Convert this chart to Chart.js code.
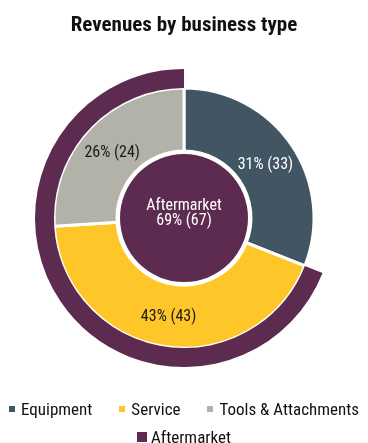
<!DOCTYPE html>
<html>
<head>
<meta charset="utf-8">
<title>Revenues by business type</title>
<script src="https://cdn.jsdelivr.net/npm/chart.js@4.4.1/dist/chart.umd.min.js"></script>
<style>
  html, body { margin: 0; padding: 0; background: #fff; }
  #wrap { position: relative; width: 368px; height: 443px; overflow: hidden; }
  #legend {
    position: absolute; left: 0; top: 395px; width: 368px;
    display: flex; flex-wrap: wrap; justify-content: center; column-gap: 27px;
    font: 17px 'Roboto Condensed', 'Liberation Sans Narrow', sans-serif; color: #111;
  }
  #legend .item { display: flex; align-items: center; height: 28px; white-space: nowrap; }
  #legend .swatch { width: 6px; height: 6px; margin-right: 6px; }
  #legend .item.outer .swatch { width: 10px; height: 10px; margin-right: 4px; }
</style>
</head>
<body>
<div id="wrap">
  <canvas id="chart-revenue"></canvas>
  <div id="legend"></div>
</div>
<script>
(function () {
  'use strict';

  var FONT = "'Roboto Condensed', 'Liberation Sans Narrow', sans-serif";

  // revenue split by business type: share of total (%) and amount
  var categories = ['Equipment', 'Service', 'Tools & Attachments'];
  var shares = [31, 43, 26];
  var amounts = [33, 43, 24];
  var sliceColors = ['#415563', '#FFC629', '#B2B2A8'];
  var labelColors = ['#ffffff', '#1a1a1a', '#1a1a1a'];

  // aftermarket overlays part of the above
  var aftermarketLabel = 'Aftermarket';
  var aftermarketShare = 69;
  var aftermarketAmount = 67;
  var aftermarketColor = '#5E2B50';

  // ring radii in px
  var R_OUTER = 149;
  var R_SPLIT = 130;
  var R_INNER = 67;

  function valueText(share, amount) {
    return share + '% (' + amount + ')';
  }

  var ringLabels = {
    id: 'ringLabels',
    afterDatasetsDraw: function (chart) {
      var ctx = chart.ctx;
      var meta = chart.getDatasetMeta(1);
      ctx.save();
      ctx.font = '16px ' + FONT;
      ctx.textAlign = 'center';
      ctx.textBaseline = 'middle';
      meta.data.forEach(function (arc, i) {
        var p = arc.tooltipPosition();
        ctx.fillStyle = labelColors[i];
        ctx.fillText(valueText(shares[i], amounts[i]), p.x, p.y + 2);
      });

      // aftermarket disc in the hole
      var a = meta.data[0];
      ctx.beginPath();
      ctx.arc(a.x, a.y, a.innerRadius - 3, 0, Math.PI * 2);
      ctx.fillStyle = aftermarketColor;
      ctx.fill();
      ctx.fillStyle = '#ffffff';
      ctx.fillText(aftermarketLabel, a.x, a.y - 12);
      ctx.fillText(valueText(aftermarketShare, aftermarketAmount), a.x, a.y + 2.5);
      ctx.restore();
    },
  };

  new Chart(document.getElementById('chart-revenue'), {
    type: 'doughnut',
    data: {
      labels: categories,
      datasets: [
        {
          label: aftermarketLabel,
          data: [100 - aftermarketShare, aftermarketShare],
          backgroundColor: ['rgba(0,0,0,0)', aftermarketColor],
          borderWidth: 0,
          weight: R_OUTER - R_SPLIT,
        },
        {
          label: 'Revenues',
          data: shares,
          backgroundColor: sliceColors,
          borderColor: '#ffffff',
          borderWidth: 3,
          weight: R_SPLIT - R_INNER,
        },
      ],
    },
    options: {
      responsive: true,
      maintainAspectRatio: false,
      animation: false,
      events: [],
      radius: R_OUTER,
      cutout: (R_INNER / R_OUTER) * 100 + '%',
      layout: { padding: { bottom: 45 } },
      plugins: {
        legend: { display: false },
        tooltip: { enabled: false },
        title: {
          display: true,
          text: 'Revenues by business type',
          color: '#111',
          font: { family: FONT, size: 21, weight: 'bold', lineHeight: 1.2 },
          padding: { top: 13, bottom: 0 },
        },
      },
    },
    plugins: [ringLabels],
  });

  // legend
  var legend = document.getElementById('legend');
  var entries = categories.map(function (c, i) {
    return { text: c, color: sliceColors[i], outer: false };
  });
  entries.push({ text: aftermarketLabel, color: aftermarketColor, outer: true });
  entries.forEach(function (e) {
    var item = document.createElement('div');
    item.className = 'item' + (e.outer ? ' outer' : '');
    var sw = document.createElement('span');
    sw.className = 'swatch';
    sw.style.background = e.color;
    item.appendChild(sw);
    item.appendChild(document.createTextNode(e.text));
    legend.appendChild(item);
  });
})();
</script>
</body>
</html>
